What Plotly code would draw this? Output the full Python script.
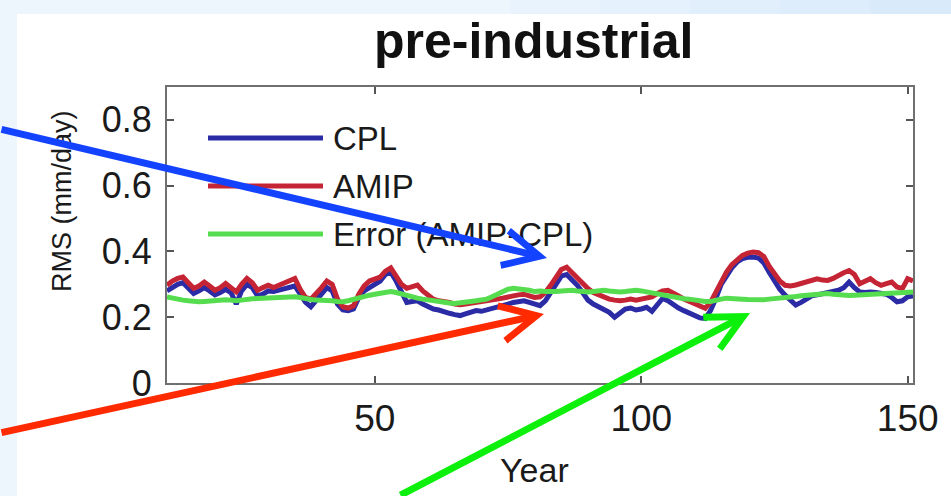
import plotly.graph_objects as go

# ---------------- data ----------------
years = list(range(11, 152))

amip = [
    0.297, 0.310, 0.318, 0.322, 0.305, 0.288, 0.295, 0.307, 0.295, 0.282,
    0.290, 0.303, 0.290, 0.277, 0.300, 0.318, 0.305, 0.282, 0.290, 0.297,
    0.290, 0.298, 0.303, 0.310, 0.318, 0.285, 0.260, 0.255, 0.270, 0.290,
    0.310, 0.300, 0.255, 0.232, 0.228, 0.235, 0.270, 0.295, 0.310, 0.318,
    0.322, 0.340, 0.350, 0.325, 0.300, 0.288, 0.295, 0.298, 0.280, 0.265,
    0.255, 0.250, 0.248, 0.245, 0.240, 0.238, 0.240, 0.242, 0.245, 0.248,
    0.250, 0.252, 0.255, 0.258, 0.260, 0.265, 0.268, 0.270, 0.265, 0.260,
    0.262, 0.275, 0.297, 0.320, 0.345, 0.352, 0.335, 0.317, 0.300, 0.287,
    0.275, 0.267, 0.260, 0.255, 0.252, 0.250, 0.252, 0.255, 0.252, 0.255,
    0.258, 0.262, 0.272, 0.280, 0.282, 0.275, 0.265, 0.255, 0.247, 0.240,
    0.232, 0.227, 0.245, 0.275, 0.310, 0.337, 0.360, 0.372, 0.388, 0.395,
    0.398, 0.396, 0.385, 0.355, 0.330, 0.310, 0.297, 0.295, 0.298, 0.303,
    0.307, 0.310, 0.317, 0.313, 0.312, 0.318, 0.328, 0.335, 0.342, 0.330,
    0.302, 0.310, 0.317, 0.305, 0.297, 0.302, 0.307, 0.292, 0.287, 0.317, 0.310,
]

cpl = [
    0.280, 0.290, 0.300, 0.305, 0.290, 0.272, 0.280, 0.290, 0.280, 0.268,
    0.275, 0.285, 0.275, 0.240, 0.280, 0.300, 0.290, 0.265, 0.270, 0.280,
    0.278, 0.283, 0.285, 0.290, 0.295, 0.270, 0.245, 0.232, 0.250, 0.272,
    0.290, 0.280, 0.240, 0.222, 0.220, 0.225, 0.260, 0.280, 0.290, 0.300,
    0.310, 0.330, 0.337, 0.310, 0.275, 0.245, 0.248, 0.250, 0.240, 0.232,
    0.225, 0.222, 0.215, 0.212, 0.208, 0.205, 0.210, 0.215, 0.220, 0.218,
    0.222, 0.225, 0.230, 0.235, 0.240, 0.245, 0.248, 0.250, 0.245, 0.238,
    0.235, 0.250, 0.275, 0.300, 0.325, 0.330, 0.315, 0.297, 0.275, 0.252,
    0.240, 0.232, 0.225, 0.215, 0.200, 0.215, 0.225, 0.228, 0.222, 0.225,
    0.230, 0.218, 0.240, 0.257, 0.250, 0.237, 0.228, 0.220, 0.212, 0.205,
    0.198, 0.196, 0.220, 0.257, 0.300, 0.325, 0.350, 0.368, 0.378, 0.382,
    0.383, 0.380, 0.365, 0.337, 0.310, 0.285, 0.267, 0.250, 0.237, 0.245,
    0.257, 0.265, 0.268, 0.272, 0.277, 0.280, 0.282, 0.290, 0.307, 0.290,
    0.277, 0.275, 0.277, 0.275, 0.272, 0.270, 0.260, 0.247, 0.250, 0.262, 0.265,
]

error = [
    0.262, 0.258, 0.255, 0.252, 0.250, 0.248, 0.247, 0.248, 0.250, 0.250,
    0.252, 0.253, 0.252, 0.250, 0.252, 0.255, 0.256, 0.257, 0.258, 0.258,
    0.260, 0.262, 0.262, 0.263, 0.262, 0.260, 0.256, 0.254, 0.252, 0.252,
    0.251, 0.250, 0.248, 0.247, 0.250, 0.255, 0.260, 0.265, 0.267, 0.270,
    0.272, 0.275, 0.278, 0.275, 0.270, 0.265, 0.262, 0.258, 0.255, 0.252,
    0.250, 0.248, 0.245, 0.243, 0.242, 0.243, 0.245, 0.248, 0.250, 0.252,
    0.255, 0.262, 0.270, 0.278, 0.285, 0.288, 0.287, 0.284, 0.282, 0.278,
    0.280, 0.278, 0.277, 0.278, 0.280, 0.282, 0.282, 0.280, 0.278, 0.277,
    0.278, 0.280, 0.282, 0.280, 0.278, 0.277, 0.278, 0.280, 0.282, 0.280,
    0.277, 0.272, 0.268, 0.265, 0.262, 0.260, 0.258, 0.256, 0.255, 0.252,
    0.250, 0.248, 0.248, 0.250, 0.255, 0.258, 0.258, 0.256, 0.255, 0.254,
    0.253, 0.252, 0.253, 0.255, 0.256, 0.258, 0.260, 0.262, 0.263, 0.265,
    0.267, 0.268, 0.270, 0.272, 0.272, 0.270, 0.268, 0.267, 0.266, 0.267,
    0.268, 0.270, 0.272, 0.272, 0.272, 0.273, 0.274, 0.275, 0.276, 0.277, 0.277,
]

series_names = ["CPL", "AMIP", "Error (AMIP-CPL)"]
series_colors = ["#2b2ba6", "#c42434", "#55dd4f"]

y_tickvals = [0, 0.2, 0.4, 0.6, 0.8]
y_ticktext = ["0", "0.2", "0.4", "0.6", "0.8"]
x_tickvals = [50, 100, 150]
x_ticktext = ["50", "100", "150"]

title_text = "pre-industrial"
x_title = "Year"
y_title = "RMS (mm/day)"

# ---------------- figure geometry (pixels) ----------------
W, H = 951, 496
L, R, T, B = 167, 38, 87, 113
PW, PH = W - L - R, H - T - B


def px(xpix):
    return (xpix - L) / PW


def py(ypix):
    return (H - B - ypix) / PH


FONT = "Liberation Sans, Arial, Helvetica, sans-serif"

fig = go.Figure()
for vals, name, col in zip([cpl, amip, error], series_names, series_colors):
    fig.add_trace(go.Scatter(
        x=years, y=vals, mode="lines", name=name,
        line=dict(color=col, width=5, shape="linear"),
        showlegend=False, hoverinfo="skip",
    ))

shapes = []
# white slide area
shapes.append(dict(type="rect", xref="paper", yref="paper",
                   x0=px(17), x1=px(W + 5), y0=py(H + 5), y1=py(14),
                   fillcolor="white", line=dict(width=0), layer="below"))
# top strip gradient (light -> slightly bluer to the right)
grad = ["#edf5fd", "#e9f3fd", "#e5f1fc", "#e1effc", "#ddedfb", "#d9ebfb"]
for i, c in enumerate(grad):
    x0 = 420 + i * 90
    shapes.append(dict(type="rect", xref="paper", yref="paper",
                       x0=px(x0), x1=px(x0 + 92), y0=py(14), y1=py(-2),
                       fillcolor=c, line=dict(width=0), layer="below"))

annotations = []
# manual legend
leg_y = [138, 186, 234]
for name, col, yy in zip(series_names, series_colors, leg_y):
    shapes.append(dict(type="line", xref="paper", yref="paper",
                       x0=px(208), x1=px(323), y0=py(yy), y1=py(yy),
                       line=dict(color=col, width=5)))
    annotations.append(dict(xref="paper", yref="paper", x=px(331), y=py(yy),
                            text=name, showarrow=False, xanchor="left",
                            yanchor="middle",
                            font=dict(family=FONT, size=33, color="#1a1a1a")))

# title and axis titles
annotations.append(dict(xref="paper", yref="paper", x=px(533), y=py(41),
                        text="<b>" + title_text + "</b>", showarrow=False,
                        xanchor="center", yanchor="middle",
                        font=dict(family=FONT, size=50, color="#111111")))
annotations.append(dict(xref="paper", yref="paper", x=px(534), y=py(470),
                        text=x_title, showarrow=False, xanchor="center",
                        yanchor="middle",
                        font=dict(family=FONT, size=34, color="#1a1a1a")))
annotations.append(dict(xref="paper", yref="paper", x=px(62), y=py(201),
                        text=y_title, showarrow=False, xanchor="center",
                        yanchor="middle", textangle=-90,
                        font=dict(family=FONT, size=27, color="#1a1a1a")))

# pointer arrows (head position in data coords, tail as pixel offset)
arrows = [
    # (head_x_pix, head_y_pix, tail_x_pix, tail_y_pix, color)
    (547, 258, -6, 129, "#1443ff"),
    (544, 314, -6, 433, "#ff2a00"),
    (750, 313, 399, 501, "#0cf00c"),
]
xscale = PW / (151 - 11)
yscale = PH / 0.9
for hx, hy, tx, ty, col in arrows:
    annotations.append(dict(
        x=11 + (hx - L) / xscale, y=(H - B - hy) / yscale, xref="x", yref="y",
        ax=tx - hx, ay=ty - hy, axref="pixel", ayref="pixel",
        text="", showarrow=True, arrowhead=5, arrowsize=1.0,
        arrowwidth=7, arrowcolor=col, standoff=0, startstandoff=0,
    ))

fig.update_layout(
    width=W, height=H,
    margin=dict(l=L, r=R, t=T, b=B, pad=0),
    paper_bgcolor="#edf5fd",
    plot_bgcolor="white",
    shapes=shapes,
    annotations=annotations,
    showlegend=False,
    xaxis=dict(range=[11, 151], tickvals=x_tickvals, ticktext=x_ticktext,
               ticks="inside", ticklen=7, tickwidth=1.5, tickcolor="#555555",
               showgrid=False, zeroline=False, showline=True,
               linecolor="#707070", linewidth=2, mirror="ticks",
               tickfont=dict(family=FONT, size=37, color="#1a1a1a"),
               ticklabelstandoff=2),
    yaxis=dict(range=[0, 0.9], tickvals=y_tickvals, ticktext=y_ticktext,
               ticks="inside", ticklen=7, tickwidth=1.5, tickcolor="#555555",
               showgrid=False, zeroline=False, showline=True,
               linecolor="#707070", linewidth=2, mirror="ticks",
               tickfont=dict(family=FONT, size=36, color="#1a1a1a"),
               ticklabelstandoff=6),
)

fig.write_html(
    "out.html",
    config={"displayModeBar": False},
    post_script="document.body.style.margin='0';"
                "document.body.style.padding='0';"
                "document.body.style.overflow='hidden';",
)
